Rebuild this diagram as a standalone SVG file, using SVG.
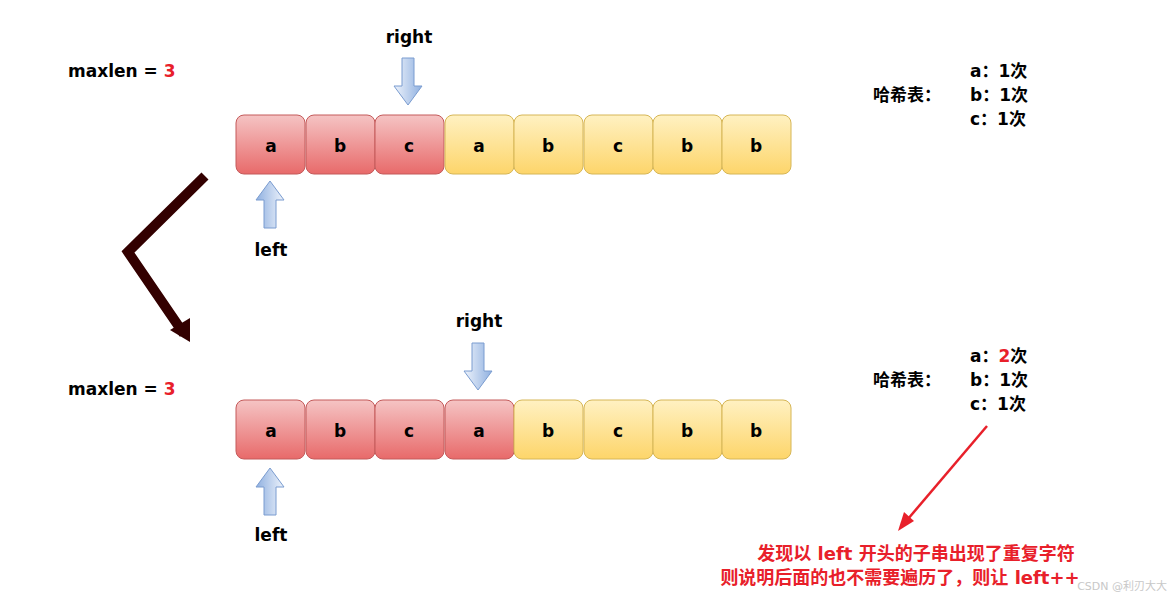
<svg xmlns="http://www.w3.org/2000/svg" width="1171" height="593" viewBox="0 0 1171 593">
<defs>
<linearGradient id="gr" x1="0" y1="0" x2="0" y2="1"><stop offset="0" stop-color="#f5c4c4"/><stop offset="1" stop-color="#e86a6a"/></linearGradient>
<linearGradient id="gy" x1="0" y1="0" x2="0" y2="1"><stop offset="0" stop-color="#fff1c2"/><stop offset="1" stop-color="#fdd56a"/></linearGradient>
<linearGradient id="gb" x1="0" y1="0" x2="1" y2="0"><stop offset="0" stop-color="#eef3fb"/><stop offset="1" stop-color="#8fb0e0"/></linearGradient>
<path id="down" d="M-6,0 H6 V28 H14 L0,47 L-14,28 H-6 Z" fill="url(#gb)" stroke="#7a9cd0" stroke-width="1"/>
</defs>
<style>
text{font-family:"Comic Sans MS","DejaVu Sans","Noto Sans CJK SC",sans-serif;font-weight:bold;font-size:17px;fill:#000}
.c{text-anchor:middle}
.r{fill:#e8202a}
.red rect{fill:url(#gr);stroke:#c45a5a}
.yel rect{fill:url(#gy);stroke:#d6b656}
</style>
<rect width="1171" height="593" fill="#fff"/>
<g id="connectors">
<polyline points="205,176 128,252 184,334" fill="none" stroke="#330000" stroke-width="10"/>
<path d="M170,330 L190,342 L190,318 Z" fill="#330000"/>
<line x1="987" y1="426" x2="902" y2="526" stroke="#e8202a" stroke-width="2.5"/>
<path d="M898,531 L904,512 L914,521 Z" fill="#e8202a"/>
</g>
<g id="row1">
<g class="red"><rect x="236" y="115" width="69" height="59" rx="8"/><rect x="306" y="115" width="69" height="59" rx="8"/><rect x="375" y="115" width="69" height="59" rx="8"/></g>
<g class="yel"><rect x="445" y="115" width="69" height="59" rx="8"/><rect x="514" y="115" width="69" height="59" rx="8"/><rect x="584" y="115" width="69" height="59" rx="8"/><rect x="653" y="115" width="69" height="59" rx="8"/><rect x="722" y="115" width="69" height="59" rx="8"/></g>
<text class="c" x="271" y="152">a</text><text class="c" x="340" y="152">b</text><text class="c" x="409" y="152">c</text><text class="c" x="479" y="152">a</text><text class="c" x="548" y="152">b</text><text class="c" x="618" y="152">c</text><text class="c" x="687" y="152">b</text><text class="c" x="756" y="152">b</text>
</g>
<g id="row2">
<g class="red"><rect x="236" y="400" width="69" height="59" rx="8"/><rect x="306" y="400" width="69" height="59" rx="8"/><rect x="375" y="400" width="69" height="59" rx="8"/><rect x="445" y="400" width="69" height="59" rx="8"/></g>
<g class="yel"><rect x="514" y="400" width="69" height="59" rx="8"/><rect x="584" y="400" width="69" height="59" rx="8"/><rect x="653" y="400" width="69" height="59" rx="8"/><rect x="722" y="400" width="69" height="59" rx="8"/></g>
<text class="c" x="271" y="437">a</text><text class="c" x="340" y="437">b</text><text class="c" x="409" y="437">c</text><text class="c" x="479" y="437">a</text><text class="c" x="548" y="437">b</text><text class="c" x="618" y="437">c</text><text class="c" x="687" y="437">b</text><text class="c" x="756" y="437">b</text>
</g>
<g id="pointers">
<use href="#down" transform="translate(408,58)"/>
<use href="#down" transform="translate(270,228) rotate(180)"/>
<use href="#down" transform="translate(478,343)"/>
<use href="#down" transform="translate(270,515) rotate(180)"/>
<text class="c" x="409" y="43">right</text>
<text class="c" x="271" y="256">left</text>
<text class="c" x="479" y="327">right</text>
<text class="c" x="271" y="541">left</text>
</g>
<g id="labels">
<text x="68" y="77">maxlen = <tspan class="r">3</tspan></text>
<text x="68" y="395">maxlen = <tspan class="r">3</tspan></text>
<text x="873" y="101">哈希表：</text>
<text x="970" y="77">a：1次</text><text x="970" y="101">b：1次</text><text x="970" y="125">c：1次</text>
<text x="873" y="386">哈希表：</text>
<text x="970" y="362">a：<tspan class="r">2</tspan>次</text><text x="970" y="386">b：1次</text><text x="970" y="410">c：1次</text>
<text class="c r" x="916" y="560" style="font-size:18px">发现以 left 开头的子串出现了重复字符</text>
<text class="c r" x="900" y="584" style="font-size:18px">则说明后面的也不需要遍历了，则让 left++</text>
<text x="1167" y="590" style="fill:#c8c8c8;font-weight:normal;font-size:11px;text-anchor:end">CSDN @利刃大大</text>
</g>
</svg>
